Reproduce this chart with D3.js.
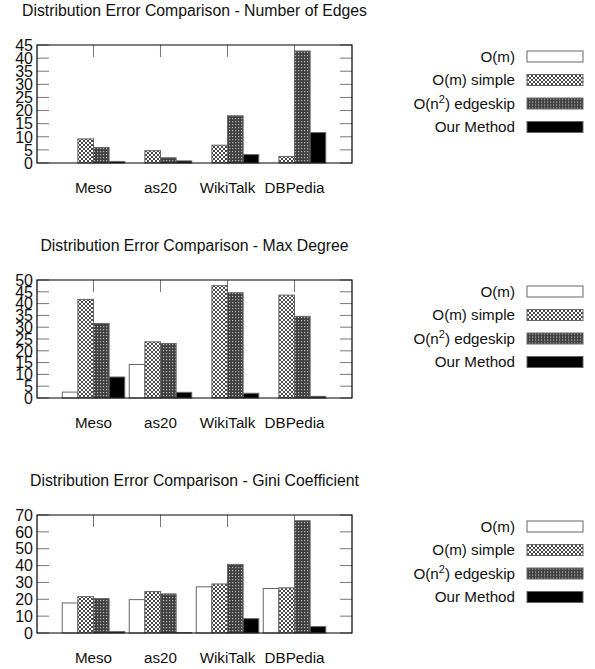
<!DOCTYPE html>
<html>
<head>
<meta charset="utf-8">
<script src="https://cdn.jsdelivr.net/npm/d3@7"></script>
<style>
  body { margin: 0; background: #fff; }
  text { font-family: "Liberation Sans", Arial, sans-serif; fill: #111; }
</style>
</head>
<body>
<div id="chart"></div>
<script>
// categories and series
var categories = ["Meso", "as20", "WikiTalk", "DBPedia"];
var seriesNames = ["O(m)", "O(m) simple", "O(n2) edgeskip", "Our Method"];

// Number of Edges (one array per series, in category order)
var edgesOm      = [0, 0, 0, 0];
var edgesSimple  = [9.2, 4.7, 6.8, 2.5];
var edgesSkip    = [5.9, 2.0, 18.0, 42.7];
var edgesOurs    = [0.6, 0.8, 3.2, 11.6];

// Max Degree
var degreeOm     = [2.5, 14.2, 0, 0];
var degreeSimple = [41.8, 23.8, 47.6, 43.6];
var degreeSkip   = [31.6, 23.1, 44.6, 34.6];
var degreeOurs   = [8.9, 2.4, 2.0, 0.7];

// Gini Coefficient
var giniOm       = [17.8, 19.8, 27.4, 26.4];
var giniSimple   = [21.6, 24.6, 29.1, 26.8];
var giniSkip     = [20.4, 23.2, 40.7, 66.6];
var giniOurs     = [0.8, 0.2, 8.5, 3.8];

var yTicks1 = [0, 5, 10, 15, 20, 25, 30, 35, 40, 45];
var yTicks2 = [0, 5, 10, 15, 20, 25, 30, 35, 40, 45, 50];
var yTicks3 = [0, 10, 20, 30, 40, 50, 60, 70];

var panels = [
    {title: "Distribution Error Comparison - Number of Edges", max: 45, ticks: yTicks1,
     values: [edgesOm, edgesSimple, edgesSkip, edgesOurs]},
    {title: "Distribution Error Comparison - Max Degree", max: 50, ticks: yTicks2,
     values: [degreeOm, degreeSimple, degreeSkip, degreeOurs]},
    {title: "Distribution Error Comparison - Gini Coefficient", max: 70, ticks: yTicks3,
     values: [giniOm, giniSimple, giniSkip, giniOurs]}
];

var width = 595, height = 669;
var plotLeft = 37, plotRight = 352, plotHeight = 118;
var panelTops = [45, 280, 515];
var tickLen = 12;
var fills = ["#fff", "url(#pat-simple)", "url(#pat-skip)", "#000"];

var svg = d3.select("#chart").append("svg")
    .attr("width", width)
    .attr("height", height);

// fill patterns
var defs = svg.append("defs");
var pSimple = defs.append("pattern")
    .attr("id", "pat-simple")
    .attr("patternUnits", "userSpaceOnUse")
    .attr("width", 4).attr("height", 4);
pSimple.append("rect").attr("width", 4).attr("height", 4).attr("fill", "#fff");
pSimple.append("path")
    .attr("d", "M0,0L4,4M4,0L0,4M-1,3L1,5M3,-1L5,1M-1,1L1,-1M3,5L5,3")
    .attr("stroke", "#333").attr("stroke-width", 0.9);

var pSkip = defs.append("pattern")
    .attr("id", "pat-skip")
    .attr("patternUnits", "userSpaceOnUse")
    .attr("width", 3).attr("height", 3);
pSkip.append("rect").attr("width", 3).attr("height", 3).attr("fill", "#404040");
pSkip.append("rect").attr("x", 1).attr("y", 1).attr("width", 1.2).attr("height", 1.2).attr("fill", "#b8b8b8");

// x: category index -> px, inner band for the four series
var x = d3.scaleLinear().domain([-0.843, 3.858]).range([plotLeft, plotRight]);
var groupWidth = 62.5;
var xInner = d3.scaleBand().domain(d3.range(seriesNames.length))
    .range([-groupWidth / 2, groupWidth / 2]);

function legendLabel(sel, name) {
    if (name === "O(n2) edgeskip") {
        sel.append("tspan").text("O(n");
        sel.append("tspan").attr("dy", -6).attr("font-size", 11).text("2");
        sel.append("tspan").attr("dy", 6).text(") edgeskip");
    } else {
        sel.text(name);
    }
}

panels.forEach(function(p, pi) {
    var top = panelTops[pi];
    var g = svg.append("g").attr("transform", "translate(0," + top + ")");
    var y = d3.scaleLinear().domain([0, p.max]).range([plotHeight, 0]);

    g.append("text")
        .attr("x", (plotLeft + plotRight) / 2)
        .attr("y", -29)
        .attr("text-anchor", "middle")
        .attr("font-size", 15.8)
        .text(p.title);

    // y ticks, mirrored on the right
    var yt = g.append("g").attr("class", "y-ticks");
    yt.selectAll("line.l").data(p.ticks).enter().append("line")
        .attr("x1", plotLeft).attr("x2", plotLeft + tickLen)
        .attr("y1", function(d) { return y(d); })
        .attr("y2", function(d) { return y(d); })
        .attr("stroke", "#777");
    yt.selectAll("line.r").data(p.ticks).enter().append("line")
        .attr("x1", plotRight - tickLen).attr("x2", plotRight)
        .attr("y1", function(d) { return y(d); })
        .attr("y2", function(d) { return y(d); })
        .attr("stroke", "#777");
    yt.selectAll("text").data(p.ticks).enter().append("text")
        .attr("x", 33)
        .attr("y", function(d) { return y(d); })
        .attr("dy", "0.36em")
        .attr("text-anchor", "end")
        .attr("font-size", 16)
        .text(function(d) { return d; });

    // x ticks, top and bottom
    var xt = g.append("g").attr("class", "x-ticks");
    xt.selectAll("line.t").data(categories).enter().append("line")
        .attr("x1", function(d, i) { return x(i); })
        .attr("x2", function(d, i) { return x(i); })
        .attr("y1", 0).attr("y2", tickLen)
        .attr("stroke", "#777");
    xt.selectAll("line.b").data(categories).enter().append("line")
        .attr("x1", function(d, i) { return x(i); })
        .attr("x2", function(d, i) { return x(i); })
        .attr("y1", plotHeight - tickLen).attr("y2", plotHeight)
        .attr("stroke", "#777");
    xt.selectAll("text").data(categories).enter().append("text")
        .attr("x", function(d, i) { return x(i); })
        .attr("y", plotHeight + 30)
        .attr("text-anchor", "middle")
        .attr("font-size", 15.2)
        .text(function(d) { return d; });

    // bars
    p.values.forEach(function(vals, si) {
        g.append("g").attr("class", "series-" + si)
            .selectAll("rect").data(vals).enter().append("rect")
            .attr("x", function(d, i) { return x(i) + xInner(si); })
            .attr("width", xInner.bandwidth())
            .attr("y", function(d) { return y(d); })
            .attr("height", function(d) { return plotHeight - y(d); })
            .attr("fill", fills[si])
            .attr("stroke", "#666")
            .attr("stroke-width", 1);
    });

    // border
    g.append("path")
        .attr("d", "M" + plotLeft + ",0H" + plotRight + "V" + plotHeight + "H" + plotLeft + "Z")
        .attr("fill", "none")
        .attr("stroke", "#000")
        .attr("stroke-width", 1.2);

    // legend
    var legend = g.append("g").attr("class", "legend");
    var items = legend.selectAll("g").data(seriesNames).enter().append("g")
        .attr("transform", function(d, i) { return "translate(0," + (11.5 + i * 23.5) + ")"; });
    items.append("text")
        .attr("x", 515)
        .attr("dy", "0.36em")
        .attr("text-anchor", "end")
        .attr("font-size", 15.2)
        .each(function(d) { legendLabel(d3.select(this), d); });
    items.append("rect")
        .attr("x", 527).attr("y", -5.5)
        .attr("width", 56).attr("height", 11)
        .attr("fill", function(d, i) { return fills[i]; })
        .attr("stroke", "#666");
});
</script>
</body>
</html>
